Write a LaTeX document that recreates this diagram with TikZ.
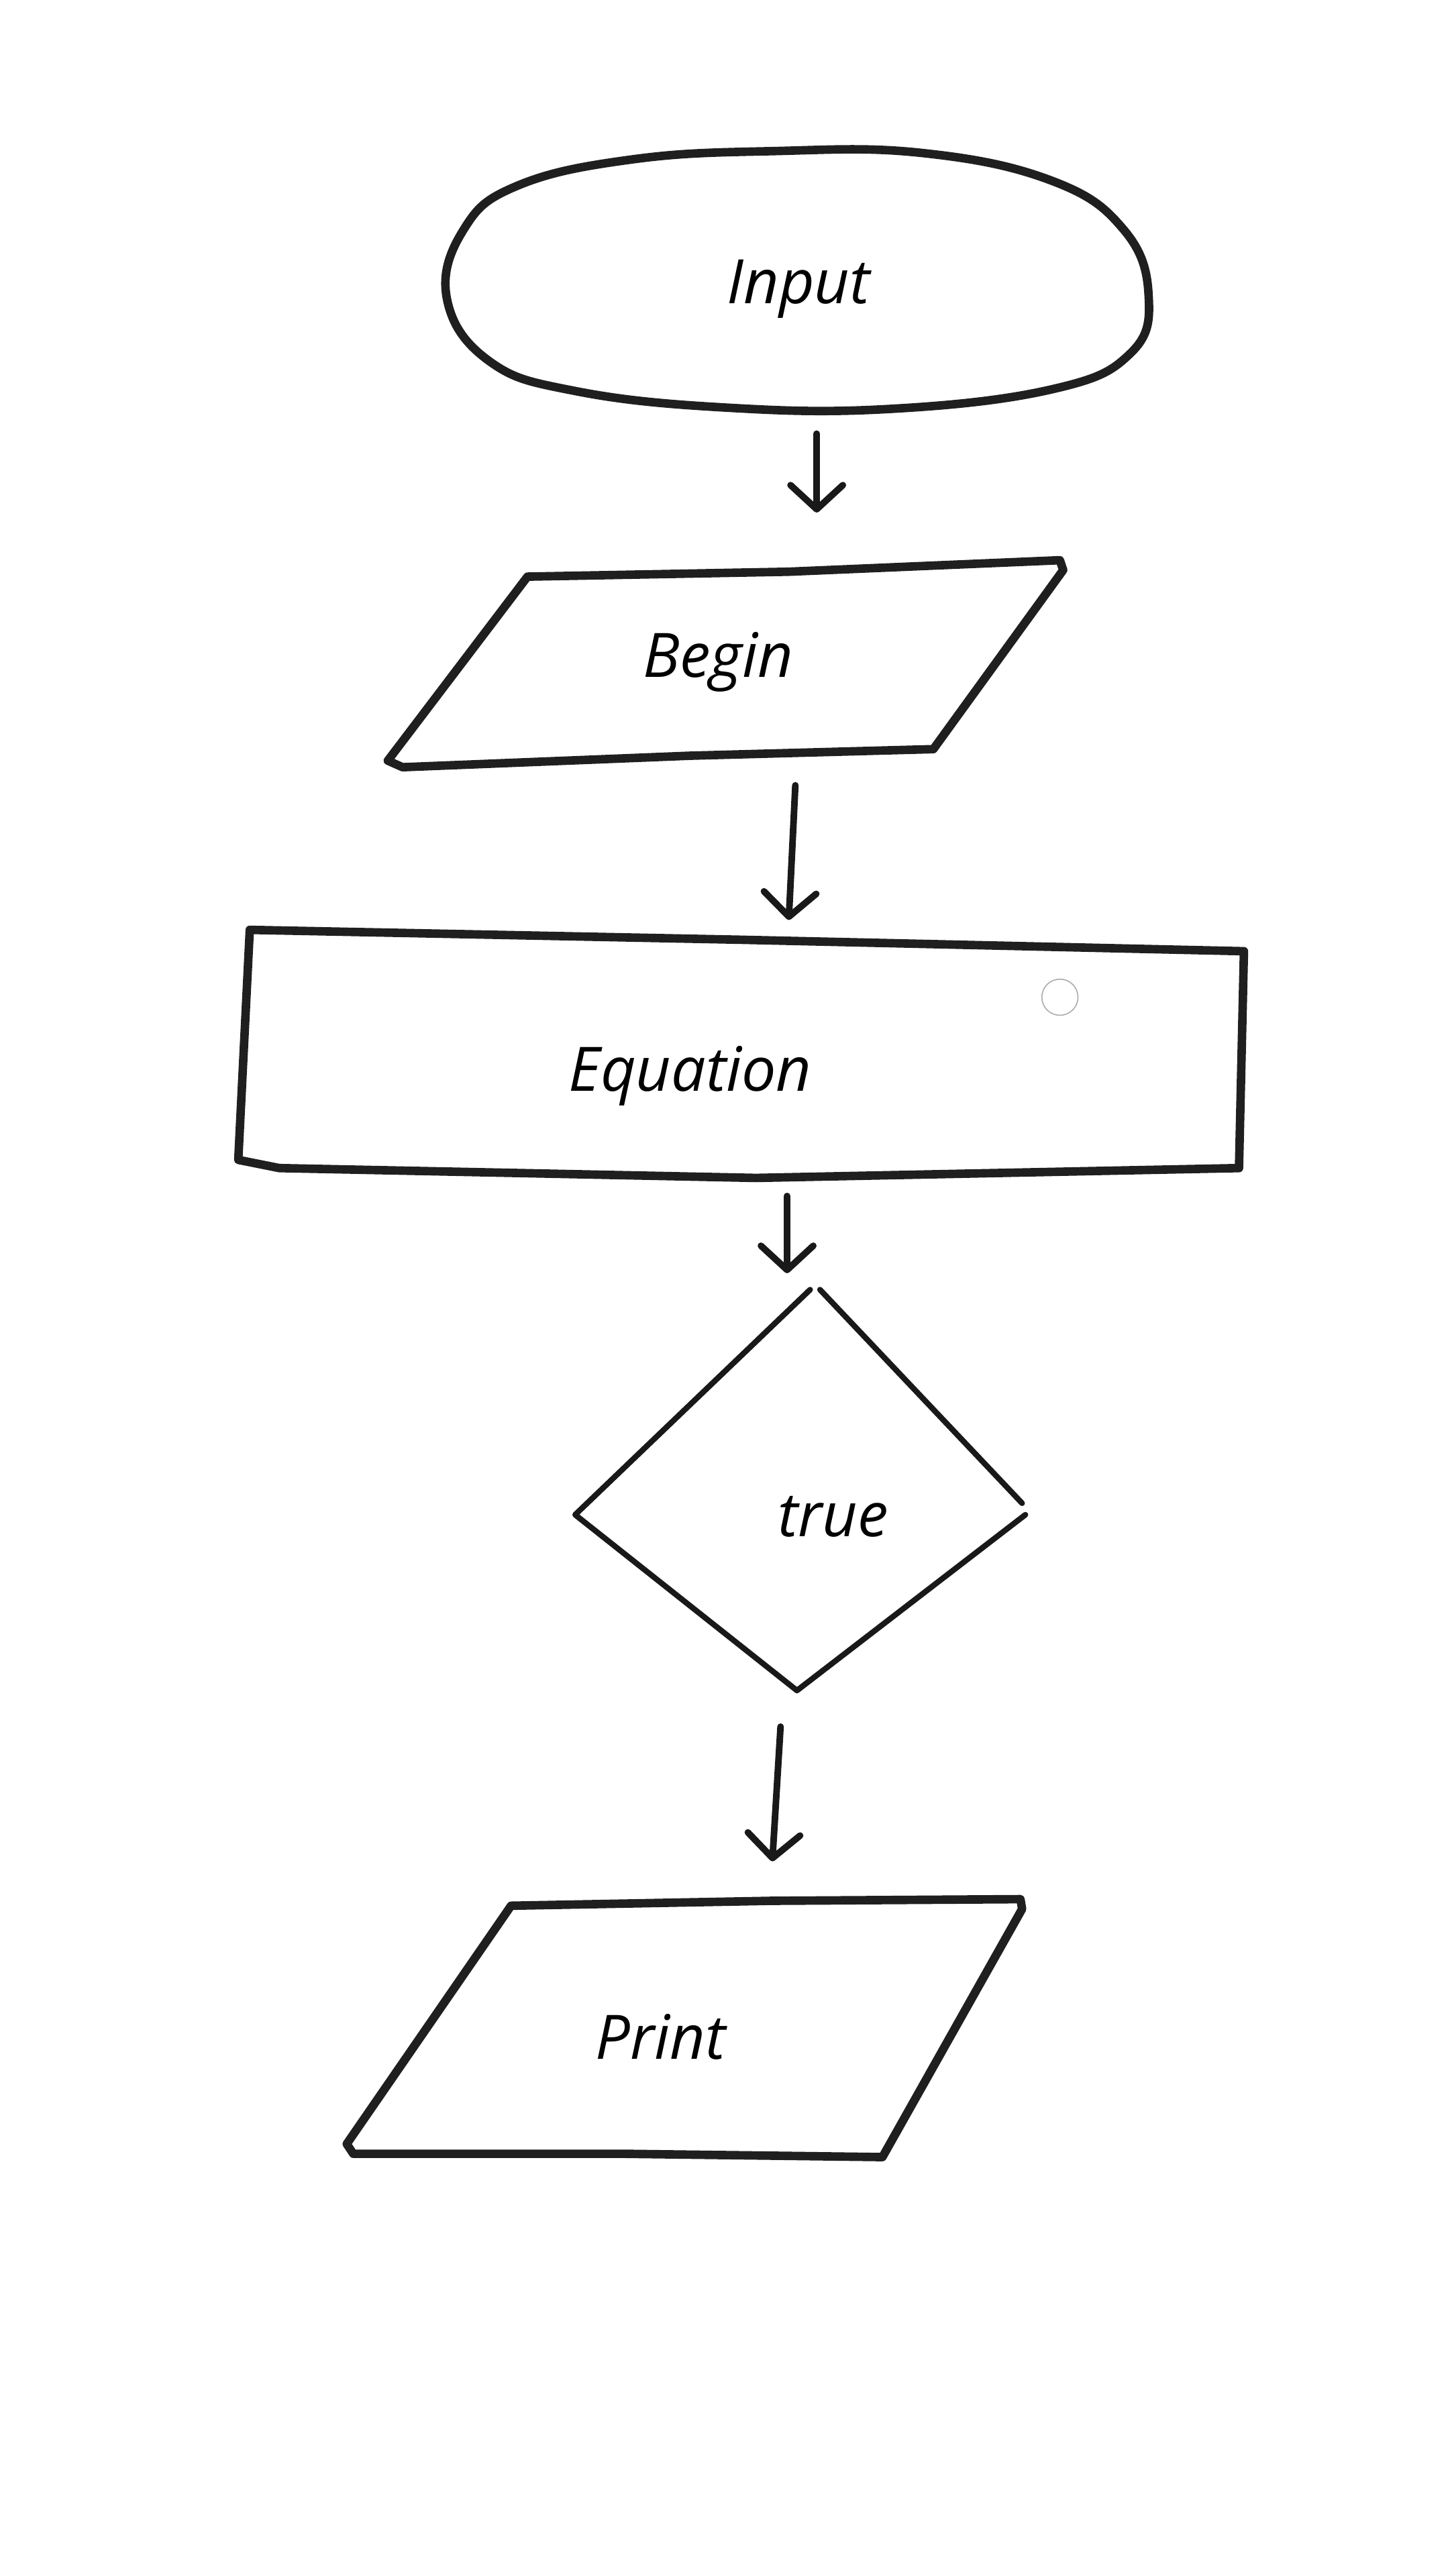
\documentclass[tikz,border=0pt]{standalone}
\usepackage{fontspec}
\setmainfont{Open Sans}
\usetikzlibrary{arrows.meta}
\tikzset{
  outline/.style={draw=black!88, line width=3.6pt, line join=round, line cap=round},
  thinout/.style={draw=black!90, line width=2.4pt, line join=round, line cap=round},
  flow/.style={draw=black!90, line width=2.8pt, line cap=round,
    -{Straight Barb[length=0.36cm, width=0.78cm, line cap=round, line join=round]}},
  label/.style={font=\itshape\fontsize{26}{30}\selectfont, inner sep=0pt, text=black},
}
\begin{document}
\begin{tikzpicture}[x=0.02449cm, y=-0.02449cm]
\useasboundingbox[fill=white] (0,0) rectangle (882,1568);

% Input (terminal)
\draw[outline] plot[smooth cycle, tension=0.7] coordinates {
  (272,182) (282,140) (315,113) (385,97) (470,92) (560,93) (640,110) (684,140)
  (699,180) (688,215) (640,237) (540,249) (440,248) (350,238) (298,220)};
\node[label] (input) at (486,176) {Input};

% Begin (parallelogram)
\draw[outline] (321,351) -- (480,348) -- (645,341) -- (647,347) -- (568,456)
  -- (420,460) -- (245,467) -- (236,463) -- cycle;
\node[label] (begin) at (437,403) {Begin};

% Equation (process)
\draw[outline] (152,566) -- (450,572) -- (757,579) -- (754,711)
  -- (460,717) -- (170,711) -- (145,706) -- cycle;
\node[label] (equation) at (420,655) {Equation};
\draw[gray!60, line width=0.5pt] (645,607) circle (11);

% true (decision)
\draw[thinout] (493,785) -- (350,922) -- (485,1029) -- (624,922);
\draw[thinout] (499,785) -- (622,915);
\node[label] (true) at (507,923) {true};

% Print (parallelogram)
\draw[outline] (311,1160) -- (470,1157) -- (621,1156) -- (622,1162) -- (537,1313)
  -- (380,1311) -- (215,1311) -- (211,1305) -- cycle;
\node[label] (print) at (402,1240) {Print};

% connectors
\coordinate (a1s) at (497,264); \coordinate (a1e) at (497,312);
\coordinate (a2s) at (484,478); \coordinate (a2e) at (480,560);
\coordinate (a3s) at (479,728); \coordinate (a3e) at (479,775);
\coordinate (a4s) at (475,1051); \coordinate (a4e) at (470,1133);
\draw[flow] (a1s) -- (a1e);
\draw[flow] (a2s) -- (a2e);
\draw[flow] (a3s) -- (a3e);
\draw[flow] (a4s) -- (a4e);
\end{tikzpicture}
\end{document}
